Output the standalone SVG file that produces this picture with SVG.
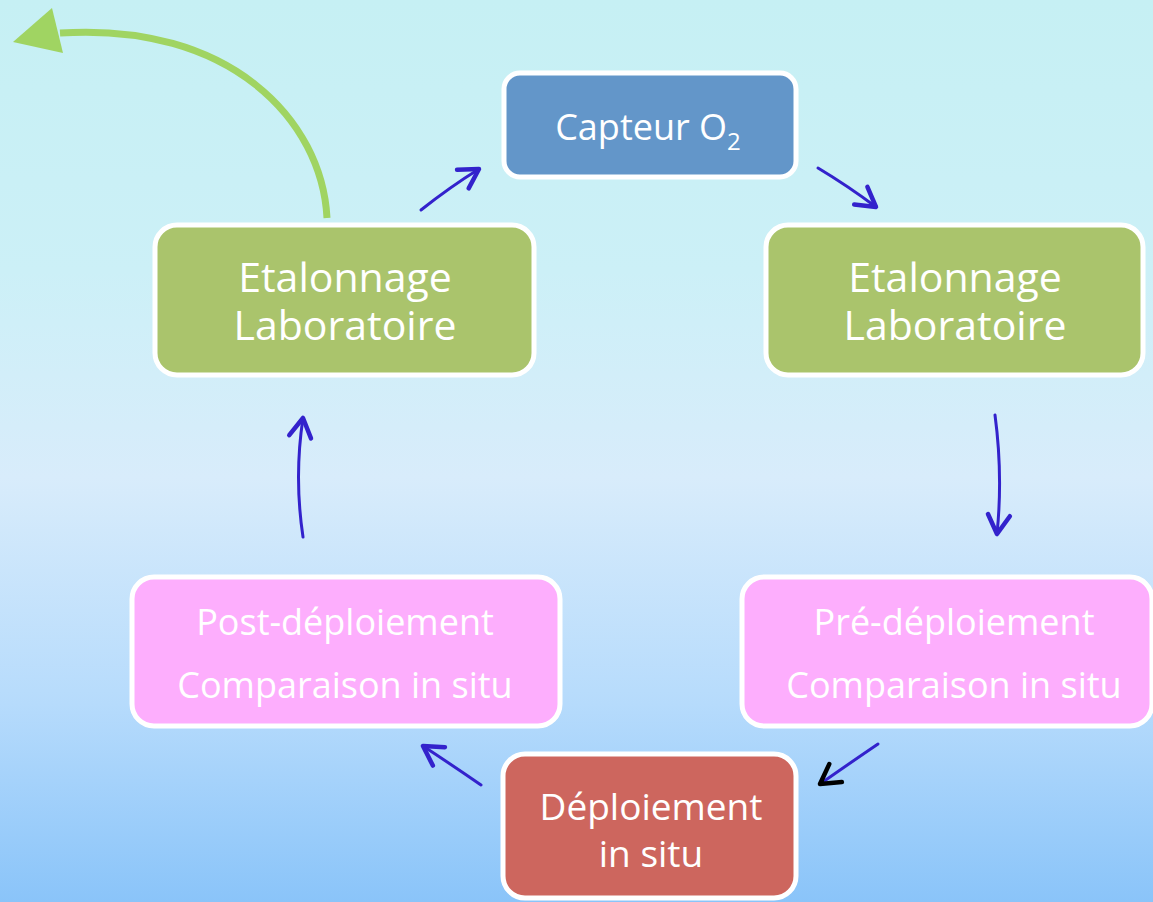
<svg xmlns="http://www.w3.org/2000/svg" width="1153" height="902" viewBox="0 0 1153 902">
<defs>
<linearGradient id="bg" x1="0" y1="0" x2="0" y2="1">
<stop offset="0" stop-color="#C6F0F4"/>
<stop offset="0.3" stop-color="#CCF0F7"/>
<stop offset="0.53" stop-color="#D8ECFB"/>
<stop offset="0.78" stop-color="#B6DBFC"/>
<stop offset="1" stop-color="#8AC4F9"/>
</linearGradient>
<marker id="ah" markerUnits="userSpaceOnUse" markerWidth="40" markerHeight="40" viewBox="-25 -20 30 40" refX="0" refY="0" orient="auto">
<path d="M-19,-11 L0,0 L-19,11" fill="none" stroke="#3322CC" stroke-width="4.5" stroke-linecap="round" stroke-linejoin="round"/>
</marker>
<marker id="ahk" markerUnits="userSpaceOnUse" markerWidth="40" markerHeight="40" viewBox="-25 -20 30 40" refX="0" refY="0" orient="auto">
<path d="M-19,-11 L0,0 L-19,11" fill="none" stroke="#000000" stroke-width="4.5" stroke-linecap="round" stroke-linejoin="round"/>
</marker>
</defs>
<style>
.box{stroke:#FFFFFF;stroke-width:5}
.t{font-family:"Open Sans","Noto Sans","DejaVu Sans",sans-serif;fill:#FFFFFF;text-anchor:middle}
.arr{fill:none;stroke:#3322CC;stroke-width:3;stroke-linecap:round}
</style>
<rect x="0" y="0" width="1153" height="902" fill="url(#bg)"/>

<g id="connectors">
<path d="M327,218 C322,120 230,22 60,33" fill="none" stroke="#A0D462" stroke-width="7"/>
<polygon points="13,42 52,8 63,53" fill="#A0D462"/>
<path class="arr" d="M421,210 Q450,187 479,169" marker-end="url(#ah)"/>
<path class="arr" d="M818,168 Q848,186 876,207" marker-end="url(#ah)"/>
<path class="arr" d="M995,415 Q1003,475 997,534" marker-end="url(#ah)"/>
<path class="arr" d="M303,537 Q294,477 303,418" marker-end="url(#ah)"/>
<path class="arr" d="M878,744 Q850,763 820,784" stroke="#000000" marker-end="url(#ahk)"/>
<path class="arr" d="M481,785 Q452,765 423,746" marker-end="url(#ah)"/>
</g>

<g id="capteur">
<rect class="box" x="504" y="73" width="292" height="104" rx="16" fill="#6396C9"/>
<text class="t" x="648" y="140" font-size="36">Capteur O<tspan font-size="24" dy="10">2</tspan></text>
</g>

<g id="etalonnage-gauche">
<rect class="box" x="155" y="225" width="379" height="150" rx="22" fill="#AAC46C"/>
<text class="t" x="345" y="292" font-size="41">Etalonnage</text>
<text class="t" x="345" y="340" font-size="41">Laboratoire</text>
</g>

<g id="etalonnage-droite">
<rect class="box" x="766" y="225" width="377" height="150" rx="22" fill="#AAC46C"/>
<text class="t" x="955" y="292" font-size="41">Etalonnage</text>
<text class="t" x="955" y="340" font-size="41">Laboratoire</text>
</g>

<g id="pre-deploiement">
<rect class="box" x="742" y="577" width="410" height="149" rx="22" fill="#FDAEFD"/>
<text class="t" x="954" y="635" font-size="36">Pré-déploiement</text>
<text class="t" x="954" y="698" font-size="36">Comparaison in situ</text>
</g>

<g id="post-deploiement">
<rect class="box" x="132" y="577" width="428" height="149" rx="22" fill="#FDAEFD"/>
<text class="t" x="345" y="635" font-size="36">Post-déploiement</text>
<text class="t" x="345" y="698" font-size="36">Comparaison in situ</text>
</g>

<g id="deploiement">
<rect class="box" x="503" y="754" width="293" height="144" rx="22" fill="#CD665E"/>
<text class="t" x="651" y="820" font-size="37">Déploiement</text>
<text class="t" x="651" y="867" font-size="37">in situ</text>
</g>
</svg>
